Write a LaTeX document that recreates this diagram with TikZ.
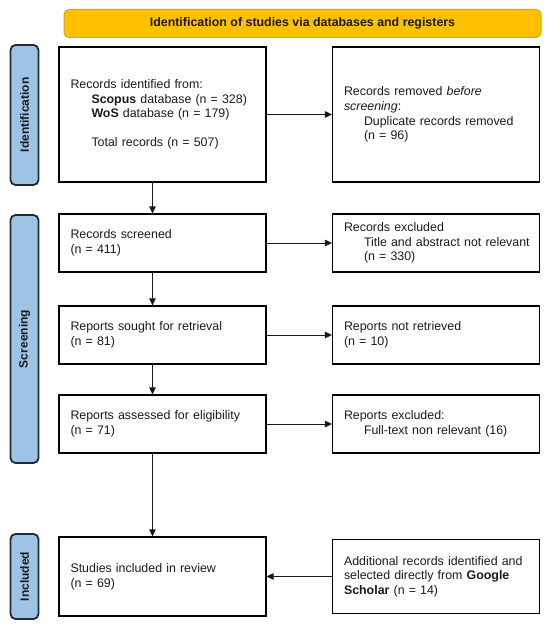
\documentclass[tikz,border=0pt]{standalone}
\usepackage{fontspec}
\setmainfont{Liberation Sans}
\usetikzlibrary{arrows.meta}
\definecolor{bannerfill}{HTML}{FFC000}
\definecolor{bannerdraw}{HTML}{E0A800}
\definecolor{sidefill}{HTML}{9DC3E6}
\definecolor{sidedraw}{HTML}{1F2A36}
\definecolor{txt}{HTML}{1A1A1A}
\tikzset{
  box/.style={draw=black, line width=1.1pt, inner xsep=11.5pt, inner ysep=0pt,
    text width=184pt, align=left, text=txt, anchor=center,
    font=\fontsize{12.4}{14.6}\selectfont},
  sidelab/.style={draw=sidedraw, fill=sidefill, line width=1.8pt, rounded corners=5pt,
    minimum height=28pt, inner sep=0pt, rotate=90, text=txt,
    font=\fontsize{12}{14}\selectfont\bfseries},
  banner/.style={draw=bannerdraw, fill=bannerfill, line width=1pt, rounded corners=5pt,
    minimum width=477pt, minimum height=28pt, inner sep=0pt, text=txt,
    font=\fontsize{12.4}{14}\selectfont\bfseries},
  arr/.style={line width=0.9pt, draw=txt, -{Triangle[length=7pt,width=6.5pt]}},
}
\begin{document}
\begin{tikzpicture}[x=1pt,y=-1pt]
\useasboundingbox (0,0) rectangle (550,628);

\node[banner] (ban) at (302.5,23.5) {Identification of studies via databases and registers};

\node[sidelab, minimum width=140pt] (sid) at (24.5,115) {Identification};
\node[sidelab, minimum width=248pt] (sscr) at (24.5,339) {Screening};
\node[sidelab, minimum width=85pt] (sinc) at (24.5,576.5) {Included};

\node[box, minimum height=135pt] (b1) at (162.5,114.5) {Records identified from:\\
\hspace*{21pt}\textbf{Scopus} database (n = 328)\\
\hspace*{21pt}\textbf{WoS} database (n = 179)\\[14.6pt]
\hspace*{21pt}Total records (n = 507)};
\node[box, minimum height=135pt] (b2) at (436,114.5) {Records removed \textit{before}\\
\textit{screening}:\\
\hspace*{20pt}\mbox{Duplicate records removed}\\
\hspace*{20pt}(n = 96)};

\node[box, minimum height=58pt] (s1) at (162.5,243) {Records screened\\(n = 411)};
\node[box, minimum height=58pt] (s2) at (436,243) {Records excluded\\
\hspace*{20pt}\mbox{Title and abstract not relevant}\\
\hspace*{20pt}(n = 330)};

\node[box, minimum height=58pt] (r1) at (162.5,335) {Reports sought for retrieval\\(n = 81)};
\node[box, minimum height=58pt] (r2) at (436,335) {Reports not retrieved\\(n = 10)};

\node[box, minimum height=58pt] (a1) at (162.5,424) {Reports assessed for eligibility\\(n = 71)};
\node[box, minimum height=58pt] (a2) at (436,424) {Reports excluded:\\
\hspace*{20pt}\mbox{Full-text non relevant (16)}};

\node[box, minimum height=79pt] (i1) at (162.5,576.5) {Studies included in review\\(n = 69)};
\node[box, minimum height=74pt] (i2) at (436,576.5) {\mbox{Additional records identified and}\\
\mbox{selected directly from \textbf{Google}}\\
\textbf{Scholar} (n = 14)};

\draw[arr] (b1) -- (b2);
\draw[arr] (s1) -- (s2);
\draw[arr] (r1) -- (r2);
\draw[arr] (a1) -- (a2);
\draw[arr] (i2) -- (i1);

\draw[arr] ([xshift=-10pt]b1.south) -- ([xshift=-10pt]b1.south |- s1.north);
\draw[arr] ([xshift=-10pt]s1.south) -- ([xshift=-10pt]s1.south |- r1.north);
\draw[arr] ([xshift=-10pt]r1.south) -- ([xshift=-10pt]r1.south |- a1.north);
\draw[arr] ([xshift=-10pt]a1.south) -- ([xshift=-10pt]a1.south |- i1.north);
\end{tikzpicture}
\end{document}
